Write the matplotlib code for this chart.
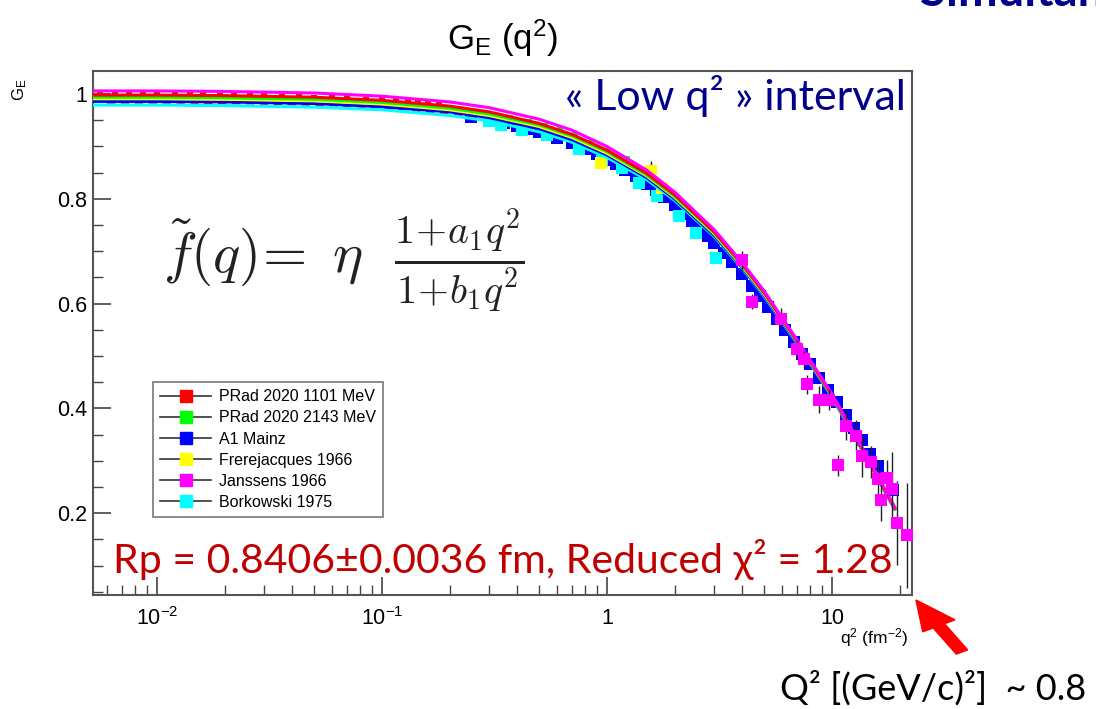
import matplotlib.pyplot as plt
from matplotlib.lines import Line2D
from matplotlib.patches import FancyArrow
from matplotlib.ticker import FixedLocator, NullFormatter, LogLocator

# ---- data ----
# fit curves, sampled at these q^2 (fm^-2)
q2_fit = [0.0052, 0.01, 0.02, 0.05, 0.1, 0.2, 0.3, 0.5, 0.7, 1.0,
          1.5, 2.0, 3.0, 4.0, 5.0, 7.0, 10.0, 14.0, 19.0]
fit_janssens = [1.006, 1.006, 1.005, 1.002, 0.996, 0.985, 0.974, 0.952, 0.931, 0.900,
                0.855, 0.813, 0.741, 0.678, 0.624, 0.531, 0.428, 0.316, 0.212]
fit_prad1 = [0.998, 0.998, 0.997, 0.994, 0.988, 0.977, 0.966, 0.944, 0.923, 0.893,
             0.849, 0.808, 0.737, 0.675, 0.621, 0.529, 0.426, 0.314, 0.210]
fit_prad2 = [0.994, 0.994, 0.993, 0.990, 0.984, 0.973, 0.962, 0.941, 0.920, 0.890,
             0.846, 0.805, 0.735, 0.673, 0.620, 0.528, 0.425, 0.313, 0.209]
fit_frerejacques = [0.991, 0.991, 0.990, 0.987, 0.981, 0.970, 0.959, 0.938, 0.917, 0.887,
                    0.844, 0.803, 0.733, 0.671, 0.618, 0.527, 0.424, 0.313, 0.209]
fit_mainz = [0.986, 0.986, 0.985, 0.982, 0.976, 0.966, 0.955, 0.934, 0.913, 0.884,
             0.841, 0.800, 0.730, 0.669, 0.616, 0.525, 0.423, 0.312, 0.208]
fit_borkowski = [0.979, 0.979, 0.978, 0.975, 0.970, 0.959, 0.949, 0.928, 0.908, 0.879,
                 0.837, 0.797, 0.728, 0.667, 0.614, 0.524, 0.422, 0.311, 0.208]

# PRad 2020 1101 MeV
q2_prad1 = [0.0056, 0.0065, 0.0075, 0.0087, 0.010, 0.012, 0.014, 0.016, 0.019, 0.022,
            0.026, 0.03, 0.036, 0.043, 0.05, 0.06, 0.07, 0.085, 0.1, 0.115, 0.13, 0.145, 0.16, 0.18]
ge_prad1 = [0.999, 0.999, 0.999, 0.999, 0.998, 0.998, 0.998, 0.998, 0.997, 0.997,
            0.996, 0.996, 0.995, 0.994, 0.993, 0.992, 0.991, 0.989, 0.988, 0.986, 0.985, 0.983, 0.981, 0.979]
q2_prad1_low = [0.0060, 0.0075, 0.0095, 0.012, 0.015, 0.019, 0.024, 0.03, 0.038, 0.048,
                0.06, 0.075, 0.095, 0.12, 0.15, 0.19, 0.23]
ge_prad1_low = [0.984, 0.984, 0.984, 0.984, 0.984, 0.983, 0.983, 0.982, 0.981, 0.980,
                0.979, 0.977, 0.975, 0.972, 0.968, 0.963, 0.958]

# PRad 2020 2143 MeV
q2_prad2 = [0.02, 0.025, 0.03, 0.04, 0.05, 0.065, 0.08, 0.1, 0.13, 0.16, 0.2, 0.25,
            0.3, 0.37, 0.45, 0.53, 0.62, 0.72, 0.85, 1.0, 1.23]
ge_prad2 = [0.994, 0.993, 0.993, 0.991, 0.990, 0.988, 0.986, 0.984, 0.980, 0.977, 0.972, 0.967,
            0.962, 0.955, 0.947, 0.939, 0.932, 0.921, 0.906, 0.892, 0.877]

# A1 Mainz
q2_mainz = [0.25, 0.3, 0.35, 0.4, 0.45, 0.5, 0.55, 0.6, 0.7, 0.8, 0.9, 1.0, 1.1, 1.2,
            1.35, 1.5, 1.65, 1.8, 2.0, 2.2, 2.4, 2.6, 2.8, 3.0, 3.3, 3.6, 4.0, 4.4,
            4.8, 5.2, 5.7, 6.2, 6.8, 7.4, 8.0, 8.8, 9.6, 10.5, 11.5, 12.5, 13.6,
            14.8, 16.0, 17.3, 18.6]
ge_mainz = [0.957, 0.950, 0.945, 0.939, 0.933, 0.927, 0.923, 0.917, 0.907, 0.895, 0.885,
            0.875, 0.866, 0.856, 0.843, 0.829, 0.816, 0.804, 0.788, 0.772, 0.757, 0.743,
            0.730, 0.716, 0.697, 0.679, 0.656, 0.634, 0.614, 0.594, 0.571, 0.550, 0.526,
            0.504, 0.484, 0.459, 0.436, 0.412, 0.387, 0.363, 0.339, 0.314, 0.290, 0.267, 0.245]

# Frerejacques 1966
q2_frer = [0.94, 1.57, 1.76]
ge_frer = [0.869, 0.854, 0.821]
err_frer = [0.010, 0.018, 0.012]

# Janssens 1966
q2_jans = [3.98, 4.4, 5.93, 6.99, 7.51, 7.73, 8.75, 9.68, 10.6, 11.6, 12.8, 13.6,
           14.9, 16.0, 16.5, 17.6, 18.5, 19.4, 21.5]
ge_jans = [0.683, 0.604, 0.571, 0.513, 0.494, 0.446, 0.417, 0.417, 0.292, 0.367, 0.348,
           0.310, 0.298, 0.265, 0.225, 0.267, 0.246, 0.181, 0.158]
err_jans = [0.018, 0.015, 0.020, 0.018, 0.016, 0.018, 0.025, 0.020, 0.020, 0.028, 0.030,
            0.040, 0.030, 0.035, 0.040, 0.035, 0.070, 0.080, 0.100]

# Borkowski 1975
q2_bork = [0.30, 0.34, 0.42, 0.54, 0.75, 0.95, 1.17, 1.39, 1.67, 2.09, 2.5, 3.05]
ge_bork = [0.948, 0.940, 0.932, 0.921, 0.895, 0.873, 0.858, 0.831, 0.806, 0.767, 0.735, 0.687]

labels = ["PRad 2020 1101 MeV", "PRad 2020 2143 MeV", "A1 Mainz",
          "Frerejacques 1966", "Janssens 1966", "Borkowski 1975"]
colors = ["#ff0000", "#00ff00", "#0000ff", "#ffff00", "#ff00ff", "#00ffff"]

y_ticks = [0.2, 0.4, 0.6, 0.8, 1.0]
y_tick_labels = ["0.2", "0.4", "0.6", "0.8", "1"]
x_ticks = [0.01, 0.1, 1, 10]
x_tick_labels = ["10$^{-2}$", "10$^{-1}$", "1", "10"]

# ---- style ----
plt.rcParams["font.family"] = ["Liberation Sans", "DejaVu Sans"]
plt.rcParams["mathtext.fontset"] = "custom"
plt.rcParams["mathtext.rm"] = "Liberation Sans"
plt.rcParams["mathtext.it"] = "Liberation Sans"
slide_font = ["Lato", "DejaVu Sans"]

fig = plt.figure(figsize=(10.96, 7.09), dpi=100)
ax = fig.add_axes([93 / 1096, 1 - 595 / 709, 819 / 1096, 524 / 709])

ms = 8
# data markers
ax.plot(q2_mainz, ge_mainz, "s", color=colors[2], ms=ms, mew=0, zorder=2)
ax.plot(q2_bork, ge_bork, "s", color=colors[5], ms=ms, mew=0, zorder=2)
ax.plot(q2_prad2, ge_prad2, "s", color=colors[1], ms=5, mew=0, zorder=2)
ax.plot(q2_prad1, ge_prad1, "s", color=colors[0], ms=5, mew=0, zorder=2)
ax.plot(q2_prad1_low, ge_prad1_low, color=colors[0], lw=2, ls=(0, (3, 2)), zorder=2)
ax.errorbar(q2_frer, ge_frer, yerr=err_frer, fmt="s", color=colors[3], ms=ms, mew=0,
            ecolor="#222222", elinewidth=1, capsize=2.5, zorder=2)
ax.errorbar(q2_jans, ge_jans, yerr=err_jans, fmt="s", color=colors[4], ms=ms, mew=0,
            ecolor="#222222", elinewidth=1, capsize=2.5, zorder=4)

# fit curves
for vals, c in [(fit_borkowski, colors[5]), (fit_mainz, colors[2]),
                (fit_frerejacques, colors[3]), (fit_prad2, colors[1]),
                (fit_prad1, colors[0]), (fit_janssens, colors[4])]:
    ax.plot(q2_fit, vals, color=c, lw=2.2, zorder=3)

ax.set_xscale("log")
ax.set_xlim(0.0052, 22.7)
ax.set_ylim(0.044, 1.044)

ax.set_xticks(x_ticks)
ax.set_xticklabels(x_tick_labels)
ax.xaxis.set_minor_locator(LogLocator(base=10, subs=range(2, 10), numticks=20))
ax.xaxis.set_minor_formatter(NullFormatter())
ax.set_yticks(y_ticks)
ax.set_yticklabels(y_tick_labels)
ax.yaxis.set_minor_locator(FixedLocator([0.05, 0.1, 0.15, 0.25, 0.3, 0.35, 0.45, 0.5, 0.55,
                                         0.65, 0.7, 0.75, 0.85, 0.9, 0.95]))
ax.tick_params(which="major", direction="in", length=13, width=1.2, color="#444444",
               labelsize=15.5, pad=4)
ax.tick_params(which="minor", direction="in", length=7, width=1.0, color="#444444")
ax.tick_params(axis="x", which="major", pad=9)
for s in ax.spines.values():
    s.set_color("#555555")
    s.set_linewidth(1.5)

# titles and axis labels
fig.text(503 / 1096, 1 - 38 / 709, "G$_E$ (q$^2$)", fontsize=25, ha="center", va="center")
fig.text(20 / 1096, 1 - 90 / 709, "G$_E$", fontsize=12, rotation=90, ha="center", va="center")
ax.text(0.995, -0.06, "q$^2$ (fm$^{-2}$)", transform=ax.transAxes, ha="right", va="top",
        fontsize=12.5)

# formula
ax.text(0.085, 0.637, r"$\tilde{f}(q)\!=\ \eta\ \ \frac{1\!+\!a_1q^2}{1\!+\!b_1q^2}$",
        transform=ax.transAxes, fontsize=41, color="#222222", math_fontfamily="cm",
        ha="left", va="center")

# annotations in slide fonts
ax.text(0.993, 0.952, "« Low q² » interval", transform=ax.transAxes, ha="right",
        va="center", fontsize=31, color="#00008b", family=slide_font)
ax.text(0.025, 0.068, "Rp = 0.8406±0.0036 fm, Reduced χ² = 1.28", transform=ax.transAxes,
        ha="left", va="center", fontsize=29.5, color="#c00000", family=slide_font)
fig.text(920 / 1096, 1 - 14 / 709, "Simultaneous fit", ha="left", va="bottom",
         fontsize=34, fontweight="bold", color="#00008b", family=slide_font)
fig.text(780 / 1096, 1 - 688 / 709, "Q² [(GeV/c)²]  ~ 0.8", ha="left", va="center",
         fontsize=26, color="black", family=slide_font)

fig.patches.append(FancyArrow(
    962 / 1096, 1 - 652 / 709, -46 / 1096, 52 / 709, width=0.012, head_width=0.034,
    head_length=0.042, length_includes_head=True, color="#ff0000",
    transform=fig.transFigure, figure=fig))

# legend
handles = [Line2D([0], [0], color="#333333", lw=1.2, marker="s", ms=8,
                  markerfacecolor=c, markeredgecolor=c) for c in colors]
leg = ax.legend(handles, labels, loc="lower left", bbox_to_anchor=(0.073, 0.149),
                borderaxespad=0, fontsize=11.5, frameon=True, fancybox=False,
                handlelength=3.2, handletextpad=0.5, labelspacing=0.38,
                borderpad=0.45, edgecolor="#555555")
leg.get_frame().set_linewidth(1.2)

fig.savefig("out.png", dpi=100)
